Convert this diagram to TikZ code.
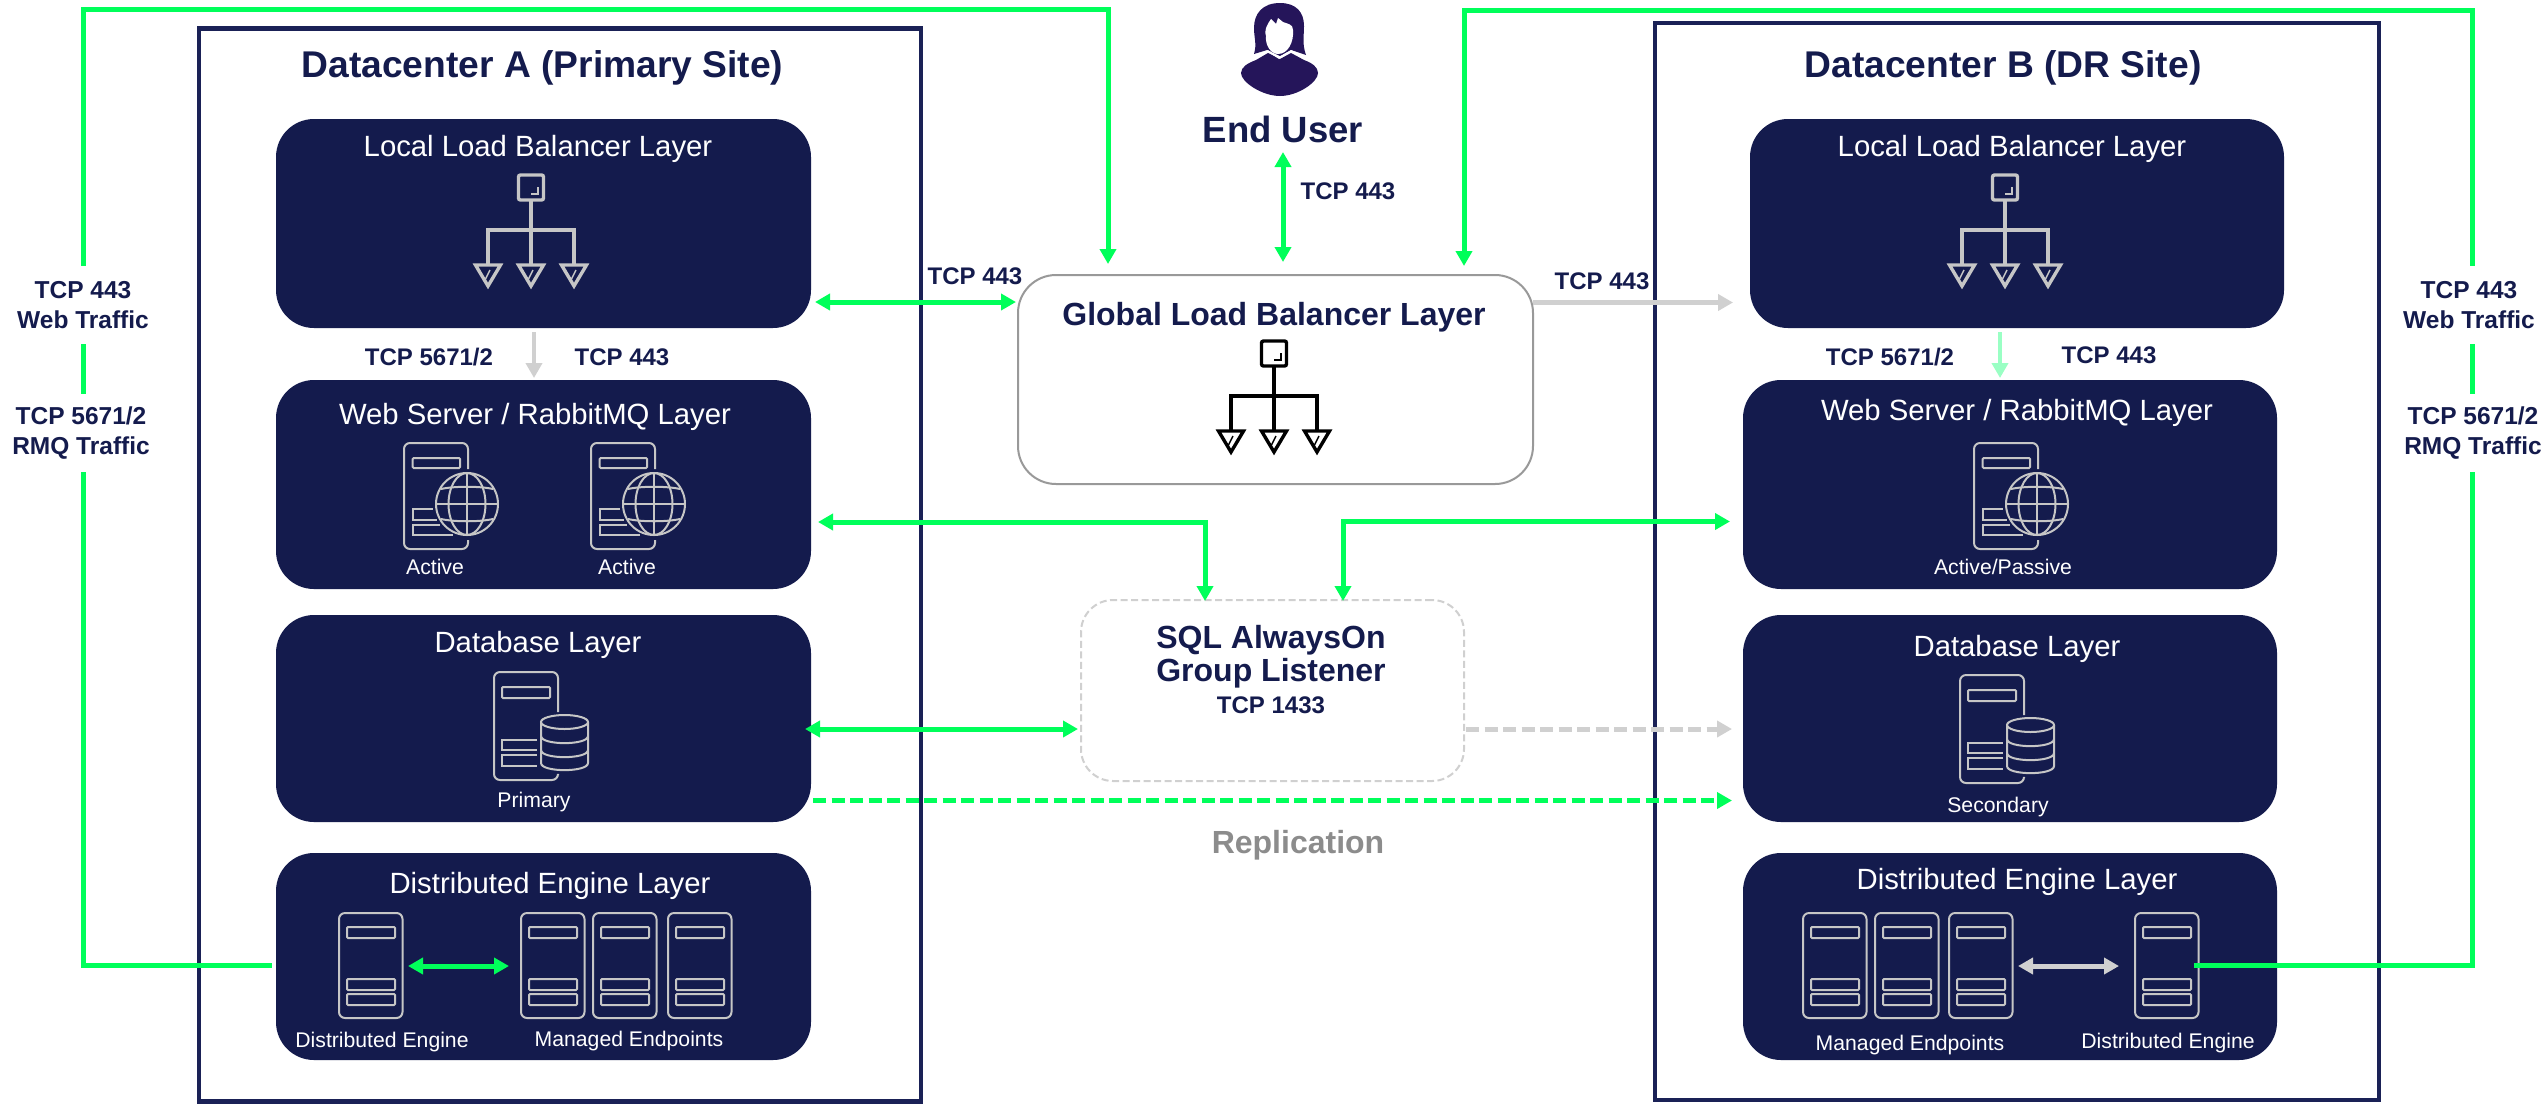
\documentclass[tikz,border=0pt]{standalone}
\usepackage{fontspec}
\setmainfont{Liberation Sans}
\usetikzlibrary{arrows.meta,calc}
\definecolor{navy}{HTML}{141B4D}
\definecolor{framec}{HTML}{1A2156}
\definecolor{grn}{HTML}{00FF5A}
\definecolor{lgrn}{HTML}{9AFFC4}
\definecolor{gry}{HTML}{D0D0D0}
\definecolor{iconc}{HTML}{C6C6C6}
\definecolor{purp}{HTML}{25155A}
\definecolor{glbline}{HTML}{999999}
\definecolor{repl}{HTML}{8C8C8C}
\tikzset{
  framebox/.style={draw=framec,line width=4.5pt,rectangle,inner sep=0pt,outer sep=0pt},
  layerbox/.style={fill=navy,rectangle,rounded corners=38pt,inner sep=0pt,outer sep=0pt},
  glbbox/.style={draw=glbline,fill=white,line width=2pt,rectangle,rounded corners=38pt,inner sep=0pt,outer sep=0pt},
  sqlbox/.style={draw=gry,line width=2pt,dash pattern=on 7pt off 3.5pt,rectangle,rounded corners=32pt,inner sep=0pt,outer sep=0pt},
  dctitle/.style={font=\fontsize{37.2}{40}\selectfont\bfseries,text=navy,text height=26pt,text depth=0pt,inner sep=0pt},
  layertitle/.style={font=\fontsize{29.3}{32}\selectfont,text=white,text height=21pt,text depth=0pt,inner sep=0pt},
  small/.style={font=\fontsize{21.2}{24}\selectfont,text=white,text height=15pt,text depth=0pt,inner sep=0pt},
  edgelbl/.style={font=\fontsize{24}{30}\selectfont\bfseries,text=navy,text height=17pt,text depth=0pt,inner sep=0pt},
  sidelbl/.style={font=\fontsize{24.5}{29.5}\selectfont\bfseries,text=navy,align=center,fill=white,inner sep=0pt,minimum height=78pt,minimum width=134pt},
  gline/.style={draw=grn,line width=5pt},
  gtip/.style={-{Triangle[length=15pt,width=16pt]}},
  gboth/.style={{Triangle[length=15pt,width=16pt]}-{Triangle[length=15pt,width=16pt]}},
  gdash/.style={dash pattern=on 13pt off 5.5pt},
  pics/lbicon/.style={code={
    \begin{scope}[color=#1,line width=3.4pt]
      \draw[rounded corners=2pt] (-12.5,0) rectangle (12.5,25);
      \draw[line width=1.6pt] (7,12) -- (7,19) -- (0,19);
      \draw (0,25) -- (0,90);
      \draw (-43,90) -- (-43,55) -- (43,55) -- (43,90);
      \foreach \dx in {-43,0,43}{
        \draw[line join=miter] ({\dx-12.5},90) -- ({\dx+12.5},90) -- (\dx,111) -- cycle;
        \draw[line width=1.4pt] ({\dx+2},95) -- ({\dx-2.5},104);
      }
    \end{scope}}},
  pics/webicon/.style={code={
    \begin{scope}[color=iconc,line width=2pt]
      \draw[rounded corners=6pt] (64,26) -- (64,0) -- (0,0) -- (0,106) -- (64,106) -- (64,97);
      \draw[rounded corners=1pt] (8.7,15) rectangle (56,25);
      \draw (29,66.3) -- (8.7,66.3) -- (8.7,77) -- (33,77);
      \draw (36,82.3) -- (8.7,82.3) -- (8.7,92.3) -- (49,92.3);
      \draw (63,61) circle (31pt);
      \draw (63,61) ellipse [x radius=18.5pt,y radius=31pt];
      \draw (63,30) -- (63,92);
      \draw (32,61) -- (94,61);
      \draw (37,46) .. controls (50,43) and (76,43) .. (89,46);
      \draw (37,76) .. controls (50,79) and (76,79) .. (89,76);
    \end{scope}}},
  pics/dbicon/.style={code={
    \begin{scope}[color=iconc,line width=2pt]
      \draw[rounded corners=6pt] (64,40) -- (64,0) -- (0,0) -- (0,108) -- (64,108) -- (64,103);
      \draw[rounded corners=1pt] (8,15) rectangle (56,26);
      \draw (43,68) -- (8,68) -- (8,78) -- (43,78);
      \draw (43,83) -- (8,83) -- (8,94) -- (43,94);
      \draw (70.5,50) ellipse [x radius=23.5pt,y radius=7pt];
      \draw (47,50) -- (47,91) .. controls (47,100.5) and (94,100.5) .. (94,91) -- (94,50);
      \draw (47,64) .. controls (47,73.5) and (94,73.5) .. (94,64);
      \draw (47,78) .. controls (47,87.5) and (94,87.5) .. (94,78);
    \end{scope}}},
  pics/srvicon/.style={code={
    \begin{scope}[color=iconc,line width=2pt]
      \draw[rounded corners=6pt] (0,0) rectangle (63.5,105);
      \draw[rounded corners=1pt] (8,14) rectangle (56,25);
      \draw[rounded corners=1pt] (8,66) rectangle (56,77);
      \draw[rounded corners=1pt] (8,81) rectangle (56,92);
    \end{scope}}},
}
\begin{document}
\begin{tikzpicture}[x=1pt,y=-1pt]
\useasboundingbox (0,0) rectangle (2545,1104);
\fill[white] (0,0) rectangle (2545,1104);

% datacenter frames
\node[framebox,minimum width=722pt,minimum height=1073pt] (dca) at (560,565) {};
\node[framebox,minimum width=724pt,minimum height=1077pt] (dcb) at (2017,561.5) {};
\node[dctitle] (dcatitle) at (542.5,64) {Datacenter A (Primary Site)};
\node[dctitle] (dcbtitle) at (2003,64) {Datacenter B (DR Site)};

% layers A
\node[layerbox,minimum width=535pt,minimum height=209pt] (lba) at (543.5,223.5) {};
\node[layerbox,minimum width=535pt,minimum height=209pt] (weba) at (543.5,484.5) {};
\node[layerbox,minimum width=535pt,minimum height=207pt] (dba) at (543.5,718.5) {};
\node[layerbox,minimum width=535pt,minimum height=207pt] (dea) at (543.5,956.5) {};
% layers B
\node[layerbox,minimum width=534pt,minimum height=209pt] (lbb) at (2017,223.5) {};
\node[layerbox,minimum width=534pt,minimum height=209pt] (webb) at (2010,484.5) {};
\node[layerbox,minimum width=534pt,minimum height=207pt] (dbb) at (2010,718.5) {};
\node[layerbox,minimum width=534pt,minimum height=207pt] (deb) at (2010,956.5) {};
% central
\node[glbbox,minimum width=515pt,minimum height=209pt] (glb) at (1275.5,379.5) {};
\node[sqlbox,minimum width=383pt,minimum height=181pt] (sql) at (1272.5,690.5) {};

% titles
\node[layertitle] (t1) at (538,146) {Local Load Balancer Layer};
\node[layertitle] (t2) at (535,414) {Web Server / RabbitMQ Layer};
\node[layertitle] (t3) at (538,642) {Database Layer};
\node[layertitle] (t4) at (550,883) {Distributed Engine Layer};
\node[layertitle] (t5) at (2012,146) {Local Load Balancer Layer};
\node[layertitle] (t6) at (2017,410) {Web Server / RabbitMQ Layer};
\node[layertitle] (t7) at (2017,646) {Database Layer};
\node[layertitle] (t8) at (2017,879) {Distributed Engine Layer};
\node[font=\fontsize{32}{36}\selectfont\bfseries,text=navy,text height=23pt,text depth=0pt,inner sep=0pt] (glbtitle) at (1274,314) {Global Load Balancer Layer};
\node[font=\fontsize{32}{33}\selectfont\bfseries,text=navy,align=center,inner sep=0pt] (sqltitle) at (1271,657) {SQL AlwaysOn\\Group Listener};
\node[edgelbl,font=\fontsize{24}{28}\selectfont\bfseries] (sqltcp) at (1271,705) {TCP 1433};
\node[font=\fontsize{32}{36}\selectfont\bfseries,text=repl,text height=23pt,text depth=0pt,inner sep=0pt] (repltxt) at (1298,842) {Replication};
\node[font=\fontsize{36.5}{40}\selectfont\bfseries,text=navy,text height=26pt,text depth=0pt,inner sep=0pt] (usertxt) at (1283,129) {End User};

% small labels
\node[small] (s1) at (435,567) {Active};
\node[small] (s2) at (627,567) {Active};
\node[small] (s3) at (2003,567) {Active/Passive};
\node[small] (s4) at (534,800) {Primary};
\node[small] (s5) at (1998,805) {Secondary};
\node[small] (s6) at (382,1040) {Distributed Engine};
\node[small] (s7) at (629,1039) {Managed Endpoints};
\node[small] (s8) at (1910,1043) {Managed Endpoints};
\node[small] (s9) at (2168,1041) {Distributed Engine};

% icons
\pic at (531,175) {lbicon={iconc}};
\pic at (2005,175) {lbicon={iconc}};
\pic at (1274,341) {lbicon={black}};
\pic at (404,443) {webicon};
\pic at (591,443) {webicon};
\pic at (1974,443) {webicon};
\pic at (494,672) {dbicon};
\pic at (1960,675) {dbicon};
\pic at (339,913) {srvicon};
\pic at (521,913) {srvicon};
\pic at (593,913) {srvicon};
\pic at (668,913) {srvicon};
\pic at (1803,913) {srvicon};
\pic at (1875,913) {srvicon};
\pic at (1949,913) {srvicon};
\pic at (2135,913) {srvicon};

% end user figure
\fill[purp] (1256,60) .. controls (1248,63) and (1241,67) .. (1241,73)
  .. controls (1241,82) and (1262,96) .. (1280,96)
  .. controls (1298,96) and (1318,82) .. (1318,73)
  .. controls (1318,67) and (1312,63) .. (1304,60)
  -- (1291,53) -- (1280,59) -- (1268,53) -- cycle;
\fill[purp] (1280,3) .. controls (1262,3) and (1254,14) .. (1254,28)
  .. controls (1254,38) and (1257,44) .. (1254,54)
  -- (1267,50) -- (1280,56) -- (1291,50) -- (1306,55)
  .. controls (1302,44) and (1304,36) .. (1304,26)
  .. controls (1304,12) and (1296,3) .. (1280,3) -- cycle;
\fill[white] (1271,19) -- (1276,24) -- (1278,18) -- (1283,22) .. controls (1288,24) and (1293,24) .. (1293,30)
  .. controls (1294,42) and (1288,54) .. (1278,54)
  .. controls (1270,54) and (1265,44) .. (1266,36)
  .. controls (1264,32) and (1266,26) .. (1271,19) -- cycle;
\draw[white,line width=1.6pt] (1255,57) -- (1268,51) -- (1279,58) -- (1291,51) -- (1306,57);

% long connectors with side labels
\draw[gline,gtip] ($(dea.west)+(-4,8.5)$) -- ++(-189,0) |- (83,9.5) -- (1108,9.5) -- ($(glb.north)+(-167.5,-11)$);
\draw[gline,gtip] ($(deb.east)+(-83,8.5)$) -- ++(278,0) |- (2472,10.5) -- (1464,10.5) -- ($(glb.north)+(188.5,-9)$);

\node[sidelbl] (sl1) at (83,305) {TCP 443\\Web Traffic};
\node[sidelbl] (sl2) at (81,433) {TCP 5671/2\\RMQ Traffic};
\node[sidelbl] (sl3) at (2469,305) {TCP 443\\Web Traffic};
\node[sidelbl] (sl4) at (2473,433) {TCP 5671/2\\RMQ Traffic};

% other connectors
\draw[gline,gboth] ($(lba.east)+(4,78.5)$) -- ($(glb.west)+(-2,-77.5)$);
\draw[gline,gboth] ($(glb.north)+(7.5,-13)$) -- (usertxt.south |- 0,152) ;
\draw[gline,gboth] ($(weba.east)+(7,37.5)$) -| ($(sql.north)+(-67.5,1)$);
\draw[gline,gboth] ($(sql.north)+(70.5,1)$) |- ($(webb.west)+(-13,37)$);
\draw[gline,gboth] ($(dba.east)+(-6,10.5)$) -- ($(sql.west)+(-3,38.5)$);
\draw[draw=gry,line width=5pt,gtip,gdash] ($(sql.east)+(2,38.5)$) -- ($(dbb.west)+(-11,10.5)$);
\draw[gline,gtip,gdash] ($(dba.east)+(2,82)$) -- ($(dbb.west)+(-11,82)$);
\draw[draw=gry,line width=5pt,gtip] ($(glb.east)+(0,-77)$) -- ($(lbb.west)+(-17,79)$);
\draw[draw=gry,line width=4pt,gtip] ($(lba.south)+(-9.5,4)$) -- ($(weba.north)+(-9.5,-2)$);
\draw[draw=lgrn,line width=4pt,gtip] ($(lbb.south)+(-17,4)$) -- ($(webb.north)+(-10,-2)$);
\coordinate (dealeft) at (408,966);
\coordinate (dearight) at (509,966);
\draw[gline,gboth] (dealeft) -- (dearight);
\coordinate (debleft) at (2018,966);
\coordinate (debright) at (2119,966);
\draw[draw=gry,line width=5pt,gboth] (debleft) -- (debright);

% edge labels
\node[edgelbl] (e1) at (429,357) {TCP 5671/2};
\node[edgelbl] (e2) at (622,357) {TCP 443};
\node[edgelbl] (e3) at (975,276) {TCP 443};
\node[edgelbl] (e4) at (1348,191) {TCP 443};
\node[edgelbl] (e5) at (1602,281) {TCP 443};
\node[edgelbl] (e6) at (1890,357) {TCP 5671/2};
\node[edgelbl] (e7) at (2109,355) {TCP 443};
\end{tikzpicture}
\end{document}
